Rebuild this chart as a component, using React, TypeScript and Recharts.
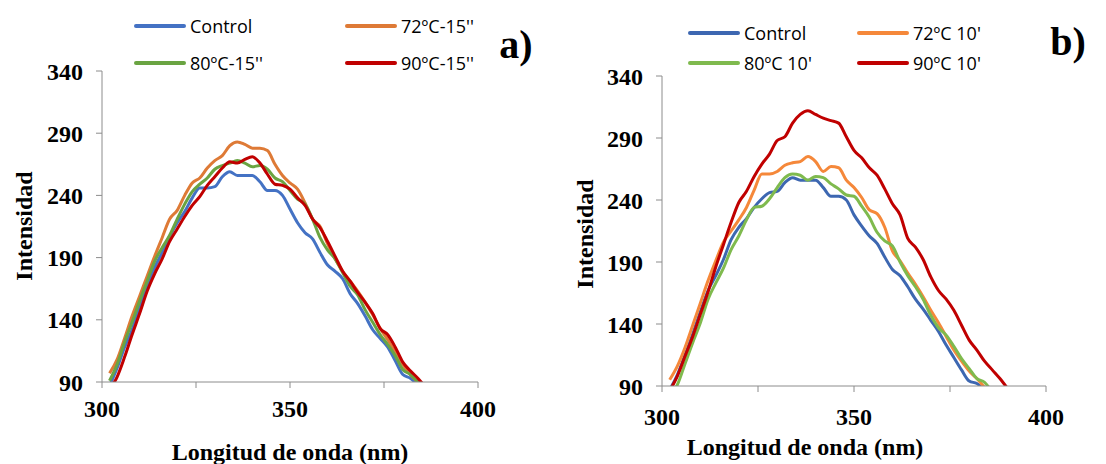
import React from 'react';
import { LineChart, Line, XAxis, YAxis } from 'recharts';

// wavelength (nm), panel a) 15'' treatments
const wavelengthA = [
  302, 304, 306, 308, 310, 312, 314, 316, 318, 320, 322, 324, 326, 328, 330,
  332, 334, 336, 338, 340, 342, 344, 346, 348, 350, 352, 354, 356, 358, 360,
  362, 364, 366, 368, 370, 372, 374, 376, 378, 380, 382, 384, 386,
];
const controlA = [
  87, 101, 118, 132, 151, 167, 182, 194, 207, 218, 227, 238, 246, 246, 247,
  255, 259, 256, 256, 256, 251, 244, 244, 240, 229, 218, 210, 205, 194, 184,
  179, 173, 161, 153, 143, 132, 125, 118, 107, 96, 93, 88, 84,
];
const t72A = [
  97, 108, 125, 143, 159, 175, 191, 206, 221, 228, 240, 250, 254, 262, 268,
  272, 280, 283, 281, 278, 278, 276, 265, 256, 250, 245, 234, 221, 215, 201,
  189, 179, 171, 163, 154, 144, 133, 124, 114, 104, 96, 90, 85,
];
const t80A = [
  91, 104, 122, 138, 155, 171, 187, 198, 208, 221, 233, 243, 249, 254, 261,
  264, 266, 268, 266, 263, 264, 261, 254, 251, 244, 237, 233, 221, 206, 196,
  189, 178, 167, 160, 148, 138, 128, 120, 111, 100, 96, 90, 84,
];
const t90A = [
  84, 94, 110, 128, 145, 163, 177, 189, 203, 213, 223, 232, 239, 248, 255,
  262, 267, 266, 269, 271, 266, 257, 249, 248, 245, 238, 232, 221, 214, 203,
  191, 179, 171, 162, 154, 145, 133, 128, 118, 106, 99, 93, 86,
];

// panel b) 10' treatments
const wavelengthB = [
  302, 304, 306, 308, 310, 312, 314, 316, 318, 320, 322, 324, 326, 328, 330,
  332, 334, 336, 338, 340, 342, 344, 346, 348, 350, 352, 354, 356, 358, 360,
  362, 364, 366, 368, 370, 372, 374, 376, 378, 380, 382, 384, 386, 388, 390,
];
const controlB = [
  87, 99, 115, 132, 150, 167, 179, 192, 208, 218, 225, 234, 241, 246, 247,
  254, 258, 256, 256, 256, 250, 243, 243, 240, 228, 219, 211, 205, 194, 184,
  179, 170, 160, 152, 143, 134, 123, 113, 103, 94, 92, 87, null, null, null,
];
const t72B = [
  95, 106, 121, 139, 157, 175, 191, 206, 215, 224, 234, 248, 261, 261, 263,
  268, 270, 271, 275, 271, 263, 267, 266, 256, 250, 242, 232, 229, 218, 199,
  191, 181, 172, 162, 151, 141, 130, 119, 110, 102, 96, 89, 83, null, null,
];
const t80B = [
  83, 91, 108, 125, 141, 160, 173, 185, 200, 211, 224, 234, 235, 241, 250,
  258, 261, 260, 256, 259, 258, 253, 249, 244, 243, 235, 226, 214, 207, 203,
  190, 179, 170, 160, 147, 137, 131, 122, 112, 104, 96, 93, 85, null, null,
];
const t90B = [
  86, 98, 114, 130, 148, 166, 186, 204, 222, 238, 247, 259, 269, 277, 288,
  291, 302, 309, 312, 309, 306, 304, 302, 291, 280, 274, 266, 260, 249, 237,
  228, 209, 202, 192, 178, 167, 160, 151, 139, 127, 119, 110, 103, 96, 88,
];

const yTicks = [90, 140, 190, 240, 290, 340];
const xTicks = [300, 325, 350, 375, 400];
const xLabels = [300, 350, 400];

const namesA = ['Control', "72ºC-15''", "80ºC-15''", "90ºC-15''"];
const namesB = ['Control', "72ºC 10'", "80ºC 10'", "90ºC 10'"];
const colorsA = ['#4472C4', '#DE7A36', '#6AA442', '#C00000'];
const colorsB = ['#3D67B1', '#F5883A', '#7FBA4E', '#C00000'];

const dataA = wavelengthA.map((w, i) => ({
  w,
  control: controlA[i],
  t72: t72A[i],
  t80: t80A[i],
  t90: t90A[i],
}));
const dataB = wavelengthB.map((w, i) => ({
  w,
  control: controlB[i],
  t72: t72B[i],
  t80: t80B[i],
  t90: t90B[i],
}));

const serif = '"Times New Roman", "Liberation Serif", serif';
const sans = '"Open Sans", "Liberation Sans", sans-serif';
const axisGray = '#8c8c8c';

const tickStyle = { fontFamily: serif, fontWeight: 700, fontSize: 24, fill: '#000' };

// 2x2 legend like the Excel original
const LegendBox: React.FC<{
  names: string[];
  colors: string[];
  left: number;
  top: number;
  colGap: number;
  rowGap: number;
}> = ({ names, colors, left, top, colGap, rowGap }) => (
  <>
    {names.map((n, i) => (
      <div
        key={n}
        style={{
          position: 'absolute',
          left: left + (i % 2) * colGap,
          top: top + Math.floor(i / 2) * rowGap,
          display: 'flex',
          alignItems: 'center',
          height: 24,
          transform: 'translateY(-50%)',
          fontFamily: sans,
          fontSize: 18,
          color: '#000',
          whiteSpace: 'nowrap',
        }}
      >
        <span
          style={{
            display: 'inline-block',
            width: 52,
            height: 4,
            borderRadius: 2,
            background: colors[i],
            marginRight: 4,
          }}
        />
        {n}
      </div>
    ))}
  </>
);

interface PanelProps {
  data: any[];
  colors: string[];
  names: string[];
  margin: { top: number; right: number; bottom: number; left: number };
  xTickMargin: number;
}

const Panel: React.FC<PanelProps> = ({ data, colors, names, margin, xTickMargin }) => (
  <LineChart width={553} height={464} data={data} margin={margin}>
    <XAxis
      dataKey="w"
      type="number"
      domain={[300, 400]}
      ticks={xTicks}
      tickFormatter={(v: number) => (xLabels.includes(v) ? String(v) : '')}
      interval={0}
      height={40}
      stroke={axisGray}
      tickSize={6}
      tickMargin={xTickMargin}
      tick={tickStyle}
      allowDataOverflow
    />
    <YAxis
      type="number"
      domain={[90, 340]}
      ticks={yTicks}
      interval={0}
      width={62}
      stroke={axisGray}
      tickSize={6}
      tickMargin={13}
      tick={tickStyle}
      allowDataOverflow
    />
    {['control', 't72', 't80', 't90'].map((k, i) => (
      <Line
        key={k}
        type="monotone"
        dataKey={k}
        name={names[i]}
        stroke={colors[i]}
        strokeWidth={3}
        dot={false}
        isAnimationActive={false}
      />
    ))}
  </LineChart>
);

const text = (content: string, x: number, y: number, size: number, rotate = false) => (
  <div
    style={{
      position: 'absolute',
      left: x,
      top: y,
      transform: `translate(-50%, -50%)${rotate ? ' rotate(-90deg)' : ''}`,
      fontFamily: serif,
      fontWeight: 700,
      fontSize: size,
      color: '#000',
      whiteSpace: 'nowrap',
      lineHeight: 1,
    }}
  >
    {content}
  </div>
);

const App: React.FC = () => (
  <div
    style={{
      position: 'absolute',
      left: 0,
      top: 0,
      width: 1106,
      height: 464,
      background: '#fff',
      overflow: 'hidden',
    }}
  >
    <div style={{ position: 'absolute', left: 0, top: 0 }}>
      <Panel
        data={dataA}
        colors={colorsA}
        names={namesA}
        margin={{ top: 71, right: 75, bottom: 42, left: 40 }}
        xTickMargin={12}
      />
    </div>
    <div style={{ position: 'absolute', left: 553, top: 0 }}>
      <Panel
        data={dataB}
        colors={colorsB}
        names={namesB}
        margin={{ top: 76, right: 60, bottom: 38, left: 47 }}
        xTickMargin={16}
      />
    </div>
    <LegendBox names={namesA} colors={colorsA} left={134} top={26} colGap={211} rowGap={37} />
    <LegendBox names={namesB} colors={colorsB} left={688} top={33} colGap={169} rowGap={30} />
    {text('Longitud de onda (nm)', 290, 452, 24)}
    {text('Longitud de onda (nm)', 805, 447, 24)}
    {text('Intensidad', 24, 226, 24, true)}
    {text('Intensidad', 585, 234, 24, true)}
    {text('a)', 516, 45, 40)}
    {text('b)', 1068, 42, 40)}
  </div>
);

export default App;
